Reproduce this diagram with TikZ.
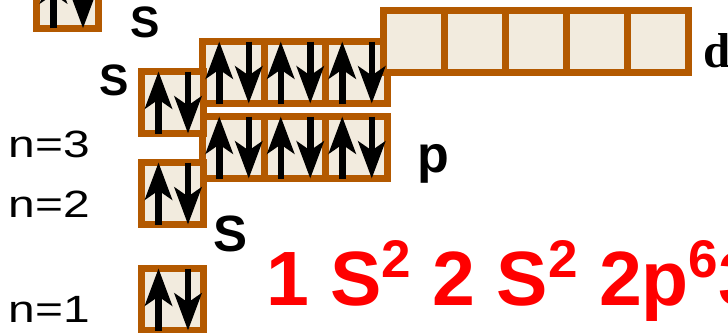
\documentclass[tikz,border=0pt]{standalone}
\usepackage{fontspec}
\setmainfont{Liberation Sans}
\newfontfamily\serifbold{Liberation Serif}
\usetikzlibrary{arrows.meta}
\definecolor{cellrim}{RGB}{179,89,0}
\definecolor{cellfill}{RGB}{242,235,222}
\definecolor{configred}{RGB}{255,0,0}
\newcommand\expo[1]{\raisebox{28pt}{\fontsize{53}{53}\selectfont #1}}
\newcommand\widen[1]{\scalebox{1.26}[1]{#1}}
\newcommand\spinpair[1]{%
  \draw[spin] ([xshift=-14pt]#1.south) -- ([xshift=-14pt]#1.north);
  \draw[spin] ([xshift=15.5pt]#1.north) -- ([xshift=15.5pt]#1.south);}

\begin{document}
\begin{tikzpicture}[
    x=1pt, y=-1pt,
    cell/.style={draw=cellrim, fill=cellfill, line width=7pt,
      minimum width=#1, minimum height=62pt, inner sep=0pt, outer sep=0pt},
    cell/.default=62pt,
    spin/.style={line width=6.5pt, -{Stealth[length=37pt,width=27pt,inset=9pt]}},
    shelltext/.style={anchor=base west, inner sep=0pt, font=\fontsize{38}{38}\selectfont},
    orbtext/.style={anchor=base west, inner sep=0pt, font=\bfseries\fontsize{#1}{#1}\selectfont},
  ]
  \useasboundingbox (0,0) rectangle (728,332);

  % p and d cells
  \foreach \i in {0,1,2} {
    \node[cell=61.5pt] (p3\i) at ({233.25+61.5*\i},72.5) {};
    \node[cell=61.5pt] (p2\i) at ({233.25+61.5*\i},147.5) {};
  }
  \foreach \i in {0,...,4}
    \node[cell=61pt] (d3\i) at ({414+61*\i},41.5) {};

  % s cells
  \node[cell] (s4) at (67.5,-2.75) {};
  \node[cell] (s3) at (172.5,102.5) {};
  \node[cell] (s2) at (172.5,193.5) {};
  \node[cell] (s1) at (172.5,299.5) {};

  % electrons
  \foreach \c in {s4,s3,s2,s1,p30,p31,p32,p20,p21,p22} {
    \spinpair{\c}
  }

  % labels
  \node[shelltext] (n3) at (8.5,157) {\widen{n=3}};
  \node[shelltext] (n2) at (8.5,217) {\widen{n=2}};
  \node[shelltext] (n1) at (8.5,322) {\widen{n=1}};

  \node[orbtext=44] (s4lab) at (130,37) {S};
  \node[orbtext=44] (s3lab) at (99.5,95) {S};
  \node[orbtext=51] (s2lab) at (213,251) {S};
  \node[orbtext=52] (p2lab) at (417,172) {p};
  \node[anchor=base west, inner sep=0pt,
    font=\serifbold\bfseries\fontsize{49}{49}\selectfont] (d3lab) at (703,67) {d};

  \node[anchor=base west, inner sep=0pt, text=configred,
    font=\bfseries\fontsize{77}{77}\selectfont] (config) at (266,305)
    {1 S\expo{2} 2 S\expo{2} 2p\expo{6}3};
\end{tikzpicture}
\end{document}
